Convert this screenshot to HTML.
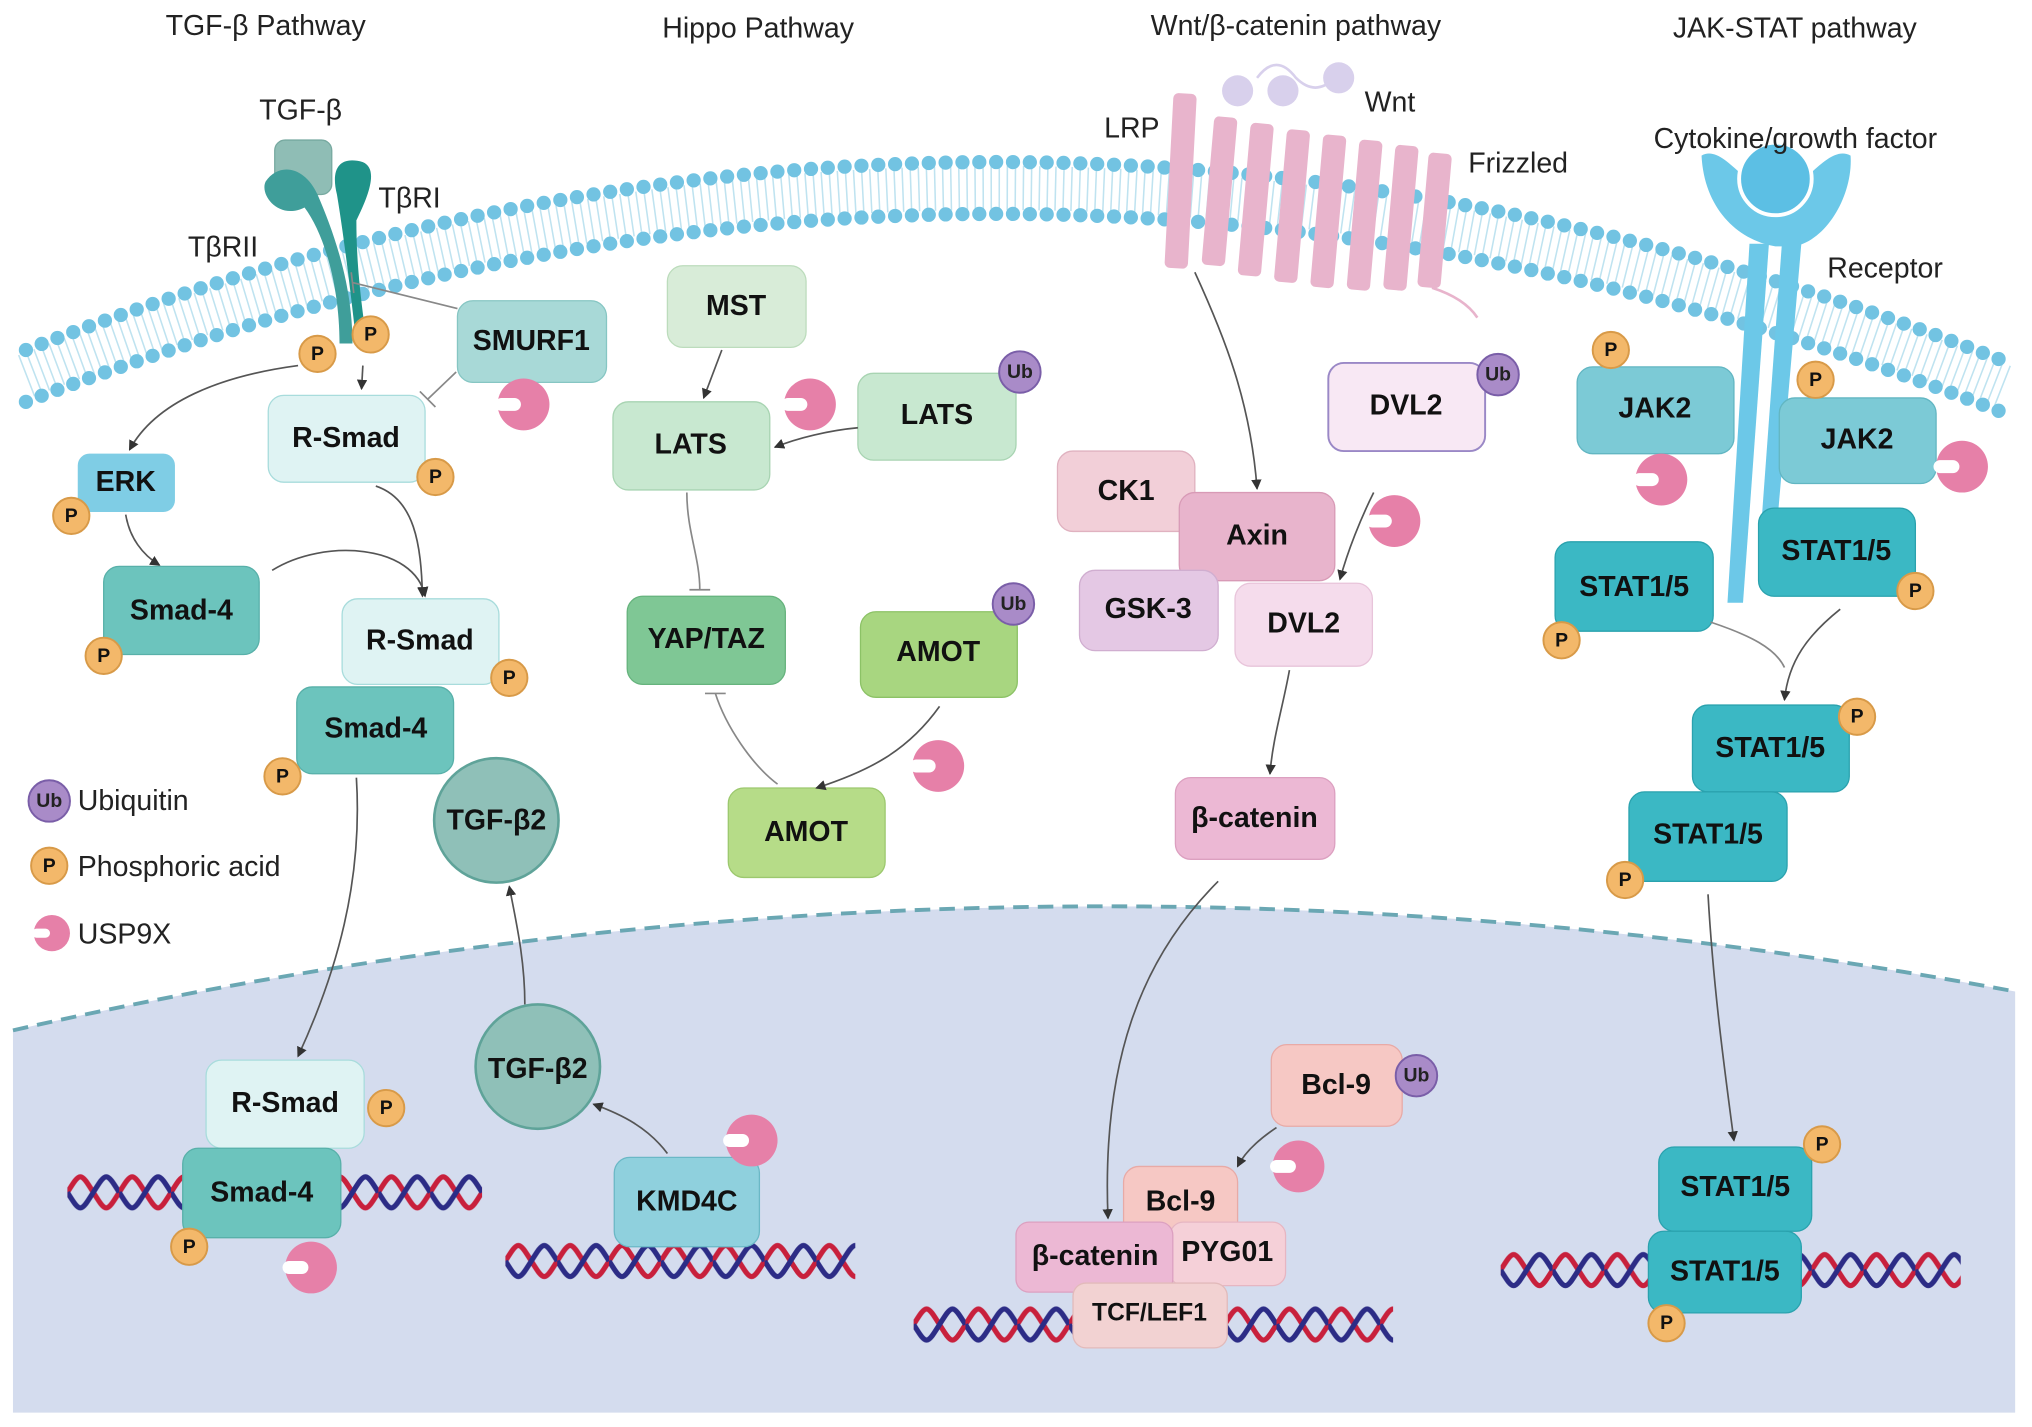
<!DOCTYPE html>
<html><head><meta charset="utf-8"><style>
html,body{margin:0;padding:0;background:#fff;}
svg{display:block;}
text{font-family:"Liberation Sans",sans-serif;}
.b{font-weight:bold;font-size:22px;fill:#111;text-anchor:middle;dominant-baseline:central;}
.t{font-size:22px;fill:#222;}
.p{font-weight:bold;font-size:15px;fill:#111;text-anchor:middle;dominant-baseline:central;}
.ub{font-weight:bold;font-size:15px;fill:#222;text-anchor:middle;dominant-baseline:central;}
.ar{fill:none;stroke:#555;stroke-width:1.3;marker-end:url(#ah);}
.inh{fill:none;stroke:#888;stroke-width:1.3;}
</style></head><body>
<svg width="2032" height="1427" viewBox="0 0 1568 1101" xmlns="http://www.w3.org/2000/svg">
<defs>
<marker id="ah" markerWidth="8" markerHeight="8" refX="7" refY="4" orient="auto" markerUnits="userSpaceOnUse"><path d="M0,0 L8,4 L0,8 z" fill="#333"/></marker>
<pattern id="dna" width="40" height="36" patternUnits="userSpaceOnUse">
<path d="M0,18 C10,2 10,2 20,18 S30,34 40,18" fill="none" stroke="#c8203c" stroke-width="4"/>
<path d="M0,18 C10,34 10,34 20,18 S30,2 40,18" fill="none" stroke="#2c2c86" stroke-width="4"/>
</pattern>
<g id="usp"><circle r="20" fill="#e680a8"/><rect x="-22" y="-5" width="20" height="10" rx="5" fill="#fff"/></g>
<g id="P"><circle r="14" fill="#f3b86a" stroke="#d89a48" stroke-width="1.5"/><text class="p">P</text></g>
<g id="Ub"><circle r="16" fill="#a98bc8" stroke="#7a5ea8" stroke-width="1.5"/><text class="ub">Ub</text></g>
</defs>

<!-- nucleus -->
<path d="M10,795 Q780,620 1555,765 L1555,1090 L10,1090 Z" fill="#d4dcee"/>
<path d="M10,795 Q780,620 1555,765" fill="none" stroke="#6aa7b3" stroke-width="3" stroke-dasharray="12 7"/>

<!-- membrane -->
<path d="M20,290 Q780,-5 1550,300" fill="none" stroke="#bfe3f0" stroke-width="34" stroke-dasharray="1.2 5"/>
<path d="M20,270 Q780,-25 1550,280" fill="none" stroke="#72c3e2" stroke-width="11" stroke-dasharray="0 13" stroke-linecap="round"/>
<path d="M20,310 Q780,15 1550,320" fill="none" stroke="#72c3e2" stroke-width="11" stroke-dasharray="0 13" stroke-linecap="round"/>

<!-- titles -->
<text class="t" x="205" y="27" text-anchor="middle">TGF-β Pathway</text>
<text class="t" x="585" y="29" text-anchor="middle">Hippo Pathway</text>
<text class="t" x="1000" y="27" text-anchor="middle">Wnt/β-catenin pathway</text>
<text class="t" x="1385" y="29" text-anchor="middle">JAK-STAT pathway</text>

<!-- TGF receptors -->
<rect x="212" y="108" width="44" height="42" rx="8" fill="#8fbdb5" stroke="#77a9a0"/>
<path d="M262,265 C262,220 250,180 235,160 C215,170 200,150 205,140 C215,125 235,128 245,150 C258,180 272,220 272,265 Z" fill="#3f9e9a"/>
<path d="M275,265 C270,220 265,180 260,150 C255,130 262,120 280,125 C292,130 285,150 275,170 C275,210 280,240 283,265 Z" fill="#1f9389"/>
<text class="t" x="232" y="92" text-anchor="middle">TGF-β</text>
<text class="t" x="292" y="160">TβRI</text>
<text class="t" x="145" y="198">TβRII</text>
<use href="#P" x="245" y="273"/><use href="#P" x="286" y="258"/>

<rect x="353" y="232" width="115" height="63" rx="12" fill="#a8d9d7" stroke="#86c6c3"/><text class="b" x="410" y="263">SMURF1</text>
<use href="#usp" x="404" y="312"/>
<rect x="207" y="305" width="121" height="67" rx="12" fill="#dff3f3" stroke="#a8dcdc"/><text class="b" x="267" y="338">R-Smad</text>
<use href="#P" x="336" y="368"/>
<rect x="60" y="350" width="75" height="45" rx="9" fill="#7fcde5"/><text class="b" x="97" y="372">ERK</text>
<use href="#P" x="55" y="398"/>
<rect x="80" y="437" width="120" height="68" rx="12" fill="#6cc4bd" stroke="#58b0a9"/><text class="b" x="140" y="471">Smad-4</text>
<use href="#P" x="80" y="506"/>
<rect x="264" y="462" width="121" height="66" rx="12" fill="#dff3f3" stroke="#a8dcdc"/><text class="b" x="324" y="494">R-Smad</text>
<use href="#P" x="393" y="523"/>
<rect x="229" y="530" width="121" height="67" rx="12" fill="#6cc4bd" stroke="#58b0a9"/><text class="b" x="290" y="562">Smad-4</text>
<use href="#P" x="218" y="599"/>
<circle cx="383" cy="633" r="48" fill="#8fc0b8" stroke="#5fa399" stroke-width="2"/><text class="b" x="383" y="633">TGF-β2</text>

<!-- legend -->
<use href="#Ub" x="38" y="618"/><text class="t" x="60" y="625">Ubiquitin</text>
<use href="#P" x="38" y="668"/><text class="t" x="60" y="676">Phosphoric acid</text>
<g transform="translate(40,720) scale(0.7)"><use href="#usp"/></g><text class="t" x="60" y="728">USP9X</text>

<!-- TGF arrows -->
<path class="ar" d="M280,282 L279,300"/>
<path class="inh" d="M353,238 L272,218 M271,210 L273,226"/>
<path class="inh" d="M352,287 L330,308 M324,302 L336,314"/>
<path class="ar" d="M230,282 C170,290 120,310 100,347"/>
<path class="ar" d="M97,397 C100,415 110,428 123,436"/>
<path class="ar" d="M210,440 C250,415 320,420 328,460"/>
<path class="ar" d="M290,375 C320,385 325,420 326,460"/>
<path class="ar" d="M275,600 C280,680 260,750 230,815"/>
<path class="ar" d="M405,775 C405,740 398,710 393,684"/>

<!-- nucleus TGF -->
<g transform="translate(52,902)"><rect width="320" height="36" fill="url(#dna)"/></g>
<rect x="159" y="818" width="122" height="68" rx="12" fill="#dff3f3" stroke="#a8dcdc"/><text class="b" x="220" y="851">R-Smad</text>
<use href="#P" x="298" y="855"/>
<rect x="141" y="886" width="122" height="69" rx="12" fill="#6cc4bd" stroke="#58b0a9"/><text class="b" x="202" y="920">Smad-4</text>
<use href="#P" x="146" y="962"/>
<use href="#usp" x="240" y="978"/>
<circle cx="415" cy="823" r="48" fill="#8fc0b8" stroke="#5fa399" stroke-width="2"/><text class="b" x="415" y="825">TGF-β2</text>
<g transform="translate(390,955)"><rect width="270" height="36" fill="url(#dna)"/></g>
<rect x="474" y="893" width="112" height="69" rx="12" fill="#8fd0dd" stroke="#6bb8c6"/><text class="b" x="530" y="927">KMD4C</text>
<use href="#usp" x="580" y="880"/>
<path class="ar" d="M515,890 C500,870 480,860 458,852"/>

<!-- Hippo -->
<rect x="515" y="205" width="107" height="63" rx="12" fill="#d8ecd8" stroke="#bcdcbc"/><text class="b" x="568" y="236">MST</text>
<rect x="473" y="310" width="121" height="68" rx="12" fill="#c8e8d0" stroke="#a8d4b2"/><text class="b" x="533" y="343">LATS</text>
<rect x="662" y="288" width="122" height="67" rx="12" fill="#c8e8d0" stroke="#a8d4b2"/><text class="b" x="723" y="320">LATS</text>
<use href="#Ub" x="787" y="287"/>
<use href="#usp" x="625" y="312"/>
<rect x="484" y="460" width="122" height="68" rx="12" fill="#7fc795" stroke="#66b37d"/><text class="b" x="545" y="493">YAP/TAZ</text>
<rect x="664" y="472" width="121" height="66" rx="12" fill="#a8d680" stroke="#8cc266"/><text class="b" x="724" y="503">AMOT</text>
<use href="#Ub" x="782" y="466"/>
<rect x="562" y="608" width="121" height="69" rx="12" fill="#b6dc88" stroke="#9cc86e"/><text class="b" x="622" y="642">AMOT</text>
<use href="#usp" x="724" y="591"/>
<path class="ar" d="M557,270 L543,307"/>
<path class="ar" d="M662,330 C640,332 615,338 598,345"/>
<path class="inh" d="M530,380 C530,410 540,430 540,455 M532,455 L548,455"/>
<path class="inh" d="M600,605 C580,590 560,560 552,535 M544,535 L560,535"/>
<path class="ar" d="M725,545 C700,580 670,595 630,608"/>

<!-- Wnt -->
<circle cx="955" cy="70" r="12" fill="#d8d0ec"/><circle cx="990" cy="70" r="12" fill="#d8d0ec"/><circle cx="1033" cy="60" r="12" fill="#d8d0ec"/>
<path d="M970,60 Q985,40 1000,60 Q1015,75 1030,60" fill="none" stroke="#d8d0ec" stroke-width="2"/>
<g fill="#e8b4cc">
<rect x="902" y="72" width="18" height="135" rx="4" transform="rotate(3 911 140)"/>
<rect x="932" y="90" width="18" height="115" rx="4" transform="rotate(5 941 148)"/>
<rect x="960" y="95" width="18" height="118" rx="4" transform="rotate(5 969 154)"/>
<rect x="988" y="100" width="18" height="118" rx="4" transform="rotate(5 997 159)"/>
<rect x="1016" y="104" width="18" height="118" rx="4" transform="rotate(5 1025 163)"/>
<rect x="1044" y="108" width="18" height="116" rx="4" transform="rotate(5 1053 166)"/>
<rect x="1072" y="112" width="18" height="112" rx="4" transform="rotate(5 1081 168)"/>
<rect x="1098" y="118" width="18" height="104" rx="4" transform="rotate(5 1107 170)"/>
</g>
<path d="M1105,222 Q1130,230 1140,245" fill="none" stroke="#e8b4cc" stroke-width="2"/>
<text class="t" x="852" y="106">LRP</text>
<text class="t" x="1053" y="86">Wnt</text>
<text class="t" x="1133" y="133">Frizzled</text>
<rect x="1025" y="280" width="121" height="68" rx="12" fill="#f8e8f4" stroke="#9a88c6" stroke-width="1.5"/><text class="b" x="1085" y="313">DVL2</text>
<use href="#Ub" x="1156" y="289"/>
<use href="#usp" x="1076" y="402"/>
<rect x="816" y="348" width="106" height="62" rx="12" fill="#f2cfd8" stroke="#e0b2c0"/><text class="b" x="869" y="379">CK1</text>
<rect x="910" y="380" width="120" height="68" rx="12" fill="#e8b4cc" stroke="#d89ab6"/><text class="b" x="970" y="413">Axin</text>
<rect x="833" y="440" width="107" height="62" rx="12" fill="#e4c8e4" stroke="#d0aed0"/><text class="b" x="886" y="470">GSK-3</text>
<rect x="953" y="450" width="106" height="64" rx="12" fill="#f5dcec" stroke="#e8c4da"/><text class="b" x="1006" y="481">DVL2</text>
<rect x="907" y="600" width="123" height="63" rx="12" fill="#ecb8d4" stroke="#dca0c0"/><text class="b" x="968" y="631">β-catenin</text>
<path class="ar" d="M922,210 C945,260 965,310 970,377"/>
<path class="ar" d="M1060,380 C1050,400 1040,425 1034,447"/>
<path class="ar" d="M995,517 C990,545 982,570 980,597"/>
<path class="ar" d="M940,680 C880,740 850,820 855,940"/>

<g transform="translate(705,1004)"><rect width="370" height="36" fill="url(#dna)"/></g>
<rect x="981" y="806" width="101" height="63" rx="12" fill="#f6c8c4" stroke="#e8aaa6"/><text class="b" x="1031" y="837">Bcl-9</text>
<use href="#Ub" x="1093" y="830"/>
<use href="#usp" x="1002" y="900"/>
<path class="ar" d="M985,870 C970,880 960,890 955,900"/>
<rect x="867" y="900" width="88" height="55" rx="12" fill="#f6c8c4" stroke="#e8aaa6"/><text class="b" x="911" y="927">Bcl-9</text>
<rect x="903" y="943" width="89" height="49" rx="10" fill="#f5d0d8" stroke="#e6b6c2"/><text class="b" x="947" y="966">PYG01</text>
<rect x="784" y="943" width="121" height="54" rx="10" fill="#ecb8d4" stroke="#dca0c0"/><text class="b" x="845" y="969">β-catenin</text>
<rect x="828" y="990" width="119" height="50" rx="10" fill="#f2d2d2" stroke="#e2baba"/><text class="b" x="887" y="1013" style="font-size:19px">TCF/LEF1</text>

<!-- JAK-STAT receptor -->
<path d="M1313,120 C1330,110 1350,150 1370,150 C1390,150 1410,110 1428,120 C1430,150 1410,185 1385,190 L1370,190 C1340,185 1315,160 1313,120 Z" fill="#6cc8e8"/>
<circle cx="1370" cy="138" r="28" fill="#5cbfe4" stroke="#fff" stroke-width="3"/>
<path d="M1350,188 L1365,188 L1345,465 L1333,465 Z" fill="#6cc8e8"/>
<path d="M1375,188 L1390,188 L1370,420 L1358,420 Z" fill="#6cc8e8"/>
<text class="t" x="1276" y="114">Cytokine/growth factor</text>
<text class="t" x="1410" y="214">Receptor</text>
<rect x="1217" y="283" width="121" height="67" rx="12" fill="#7ccad6" stroke="#62b6c2"/><text class="b" x="1277" y="315">JAK2</text>
<rect x="1373" y="307" width="121" height="66" rx="12" fill="#7ccad6" stroke="#62b6c2"/><text class="b" x="1433" y="339">JAK2</text>
<use href="#P" x="1243" y="270"/><use href="#P" x="1401" y="293"/>
<use href="#usp" x="1282" y="370"/><use href="#usp" x="1514" y="360"/>
<rect x="1200" y="418" width="122" height="69" rx="12" fill="#3bb8c4" stroke="#2aa2ae"/><text class="b" x="1261" y="453">STAT1/5</text>
<rect x="1357" y="392" width="121" height="68" rx="12" fill="#3bb8c4" stroke="#2aa2ae"/><text class="b" x="1417" y="425">STAT1/5</text>
<use href="#P" x="1205" y="494"/><use href="#P" x="1478" y="456"/>
<path class="inh" d="M1320,480 C1350,490 1370,500 1377,515"/>
<path class="ar" d="M1420,470 C1395,490 1380,510 1377,540"/>
<rect x="1306" y="544" width="121" height="67" rx="12" fill="#3bb8c4" stroke="#2aa2ae"/><text class="b" x="1366" y="577">STAT1/5</text>
<rect x="1257" y="611" width="122" height="69" rx="12" fill="#3bb8c4" stroke="#2aa2ae"/><text class="b" x="1318" y="644">STAT1/5</text>
<use href="#P" x="1433" y="553"/><use href="#P" x="1254" y="679"/>
<path class="ar" d="M1318,690 C1322,760 1330,820 1338,880"/>
<g transform="translate(1158,962)"><rect width="355" height="36" fill="url(#dna)"/></g>
<rect x="1280" y="885" width="118" height="65" rx="12" fill="#3bb8c4" stroke="#2aa2ae"/><text class="b" x="1339" y="916">STAT1/5</text>
<rect x="1272" y="950" width="118" height="63" rx="12" fill="#3bb8c4" stroke="#2aa2ae"/><text class="b" x="1331" y="981">STAT1/5</text>
<use href="#P" x="1406" y="883"/><use href="#P" x="1286" y="1021"/>
</svg>
</body></html>
